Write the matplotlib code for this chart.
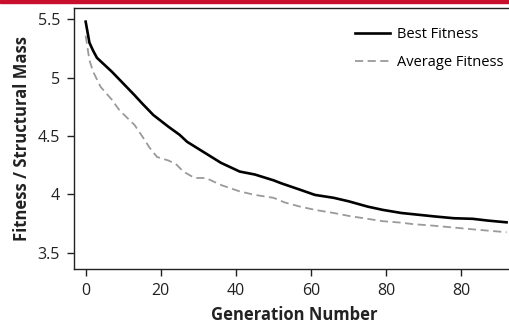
import matplotlib
matplotlib.use("Agg")
import matplotlib.pyplot as plt
from matplotlib.patches import Rectangle

# generation numbers and fitness values
best_gen = [0, 1, 2, 3, 5, 7, 10, 13, 15, 18, 22, 25, 27, 32, 36, 41, 45, 50,
            52, 57, 61, 66, 70, 75, 79, 84, 87, 93, 98, 103, 107, 112]
best_fit = [5.48, 5.30, 5.23, 5.17, 5.11, 5.05, 4.95, 4.85, 4.78, 4.68, 4.58,
            4.51, 4.45, 4.35, 4.27, 4.195, 4.17, 4.12, 4.095, 4.04, 3.995,
            3.97, 3.94, 3.895, 3.867, 3.84, 3.83, 3.81, 3.795, 3.79, 3.775, 3.76]

avg_gen = [0, 1, 2, 4, 7, 9, 13, 15, 17, 19, 22, 24, 26, 29, 32, 36, 41, 45,
           50, 53, 57, 61, 66, 70, 75, 79, 84, 87, 93, 98, 103, 112]
avg_fit = [5.36, 5.15, 5.05, 4.92, 4.81, 4.72, 4.595, 4.50, 4.40, 4.32, 4.29,
           4.26, 4.195, 4.14, 4.14, 4.08, 4.025, 3.995, 3.97, 3.93, 3.895,
           3.867, 3.84, 3.815, 3.79, 3.77, 3.757, 3.745, 3.73, 3.715, 3.70, 3.675]

x_ticks = [0, 20, 40, 60, 80, 100]
x_labels = ["0", "20", "40", "60", "80", "80"]
y_ticks = [3.5, 4, 4.5, 5, 5.5]
y_labels = ["3.5", "4", "4.5", "5", "5.5"]

plt.rcParams['font.family'] = ['Open Sans', 'DejaVu Sans']

fig = plt.figure(figsize=(5.09, 3.33), dpi=100)
ax = fig.add_axes([0.1454, 0.1922, 0.8546 + 0.01, 0.7838])

ax.plot(best_gen, best_fit, color='black', lw=1.9, label='Best Fitness')
ax.plot(avg_gen, avg_fit, color='#9a9a9a', lw=1.3, ls=(0, (4.5, 2.5)),
        label='Average Fitness')

ax.set_xlim(-3.1, 114)
ax.set_ylim(3.36, 5.597)
ax.set_xticks(x_ticks)
ax.set_xticklabels(x_labels)
ax.set_yticks(y_ticks)
ax.set_yticklabels(y_labels)
ax.tick_params(direction='out', length=5, width=1, colors='#222222',
               labelsize=11.5, pad=5)
for s in ax.spines.values():
    s.set_linewidth(1.0)
    s.set_color('#222222')
ax.spines['right'].set_visible(False)

ax.set_xlabel('Generation Number', fontsize=12, fontweight='bold',
              color='#222222', labelpad=5)
ax.set_ylabel('Fitness / Structural Mass', fontsize=12, fontweight='bold',
              color='#222222', labelpad=5)

ax.legend(loc='upper right', bbox_to_anchor=(1.0, 0.965), frameon=False,
          fontsize=10.5, handlelength=2.4, handletextpad=0.5, labelspacing=0.85,
          borderaxespad=0.3)

# thin red band along the top edge
fig.patches.append(Rectangle((0, 0.991), 1, 0.009, transform=fig.transFigure,
                             color='#c8102e', zorder=5))

fig.savefig('out.png', dpi=100)
